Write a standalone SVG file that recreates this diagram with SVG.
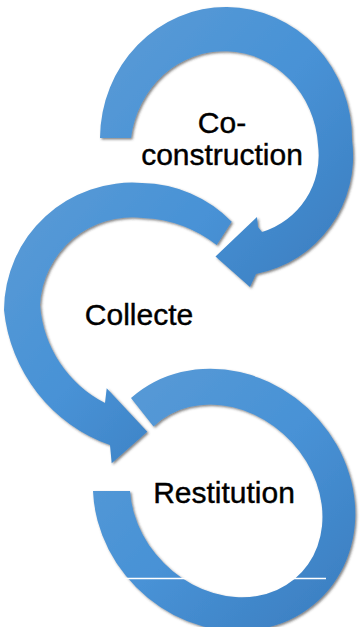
<svg xmlns="http://www.w3.org/2000/svg" width="362" height="627" viewBox="0 0 362 627">
<defs>
<linearGradient id="g" x1="0" y1="0" x2="1" y2="1">
<stop offset="0" stop-color="#5a9bd6"/>
<stop offset="0.5" stop-color="#4892d6"/>
<stop offset="1" stop-color="#3a7cbe"/>
</linearGradient>
<filter id="sh" x="-10%" y="-10%" width="120%" height="120%">
<feDropShadow dx="1.5" dy="1.5" stdDeviation="1" flood-color="#333" flood-opacity="0.6"/>
</filter>
</defs>
<style>
.arrow{fill:url(#g);filter:url(#sh)}
.label{font-family:"Liberation Sans",Arial,sans-serif;font-size:30px;fill:#000;stroke:#000;stroke-width:0.4;text-anchor:middle}
</style>
<rect width="362" height="627" fill="#fff"/>
<g id="node-coconstruction">
<path class="arrow" d="M 100,138 A 126 132 0 0 1 352,140 A 120 120 0 0 1 256,274 L 250,287 L 215.5,256.5 L 257,217 L 258,227 L 262,232 A 80 80 0 0 0 318,145 A 94 100 0 0 0 131,138 Z"/>
<text class="label" x="222" y="132.5">Co-</text>
<text class="label" x="222" y="165">construction</text>
</g>
<g id="node-collecte">
<path class="arrow" d="M 231.7,221.7 A 128 128 0 0 0 142,183 A 128 128 0 0 0 4,310 A 160 160 0 0 0 110,445 L 111.7,463.3 L 147.3,431.7 L 106.7,388.3 L 105,403 A 120 120 0 0 1 40,305 A 92 92 0 0 1 143,218 A 130 130 0 0 1 216.7,245 Z"/>
<text class="label" x="139" y="325">Collecte</text>
</g>
<g id="node-restitution">
<path class="arrow" d="M 131,398 A 138 124 45 1 1 93,491 L 130,491 A 104 88 45 1 0 153.5,426.5 Z"/>
<line x1="122" y1="578.5" x2="326" y2="578.5" stroke="#fff" stroke-width="1.5"/>
<text class="label" x="224" y="502.5">Restitution</text>
</g>
</svg>
